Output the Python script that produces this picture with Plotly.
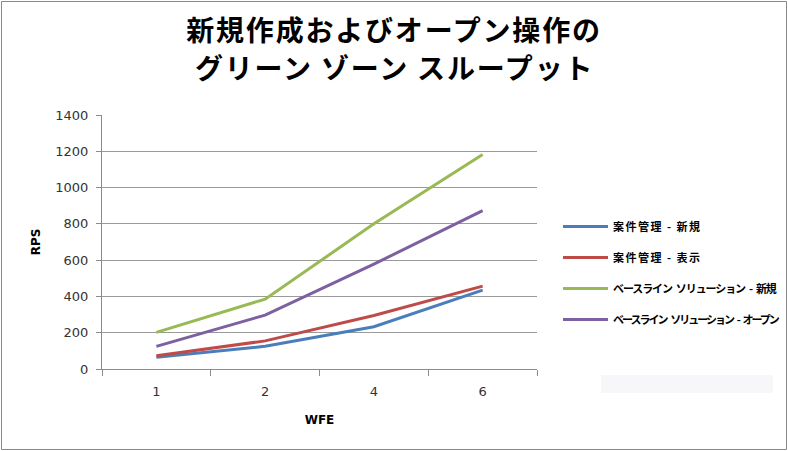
import plotly.graph_objects as go

categories = ["1", "2", "4", "6"]
series_names = [
    "案件管理 - 新規",
    "案件管理 - 表示",
    "ベースライン ソリューション - 新規",
    "ベースライン ソリューション - オープン",
]
title_line1 = "新規作成およびオープン操作の"
title_line2 = "グリーン ゾーン スループット"
case_new = [65, 125, 233, 435]
case_view = [73, 155, 295, 457]
base_new = [202, 385, 800, 1182]
base_open = [125, 297, 578, 873]
y_ticks = [0, 200, 400, 600, 800, 1000, 1200, 1400]

colors = ["#4A7EBB", "#BE4B48", "#98B954", "#7D60A0"]
values = [case_new, case_view, base_new, base_open]
legend_spacing = [1.5, 1.5, -1.1, -2.0]
space_spacing = [1.5, 1.5, 1.5, 1.2]

W, H = 788, 451
L, R, T, B = 102, 4, 115, 82
plot_right = 537
pw, ph = W - L - R, H - T - B   # paper size
dom_right = (plot_right - L) / pw

TITLE_STYLE = "letter-spacing:1.8px"


def styled_name(name, sp, ssp):
    parts = name.split(" ")
    out = []
    for k, seg in enumerate(parts):
        if seg:
            out.append(f'<span style="letter-spacing:{sp}px">{seg}</span>')
        if k < len(parts) - 1:
            out.append(f'<span style="letter-spacing:{ssp}px"> </span>')
    return "".join(out)


fig = go.Figure()
for i, (name, vals) in enumerate(zip(series_names, values)):
    fig.add_trace(go.Scatter(
        x=categories, y=vals,
        name=styled_name(name, legend_spacing[i], space_spacing[i]),
        mode="lines",
        line=dict(color=colors[i], width=3),
        legendgroup=f"g{i}",
    ))

def px_x(x):
    return (x - L) / pw

def px_y(y):
    return (H - B - y) / ph

title_font = dict(family="Noto Sans CJK JP", size=28, color="black", weight="bold")

fig.update_layout(
    width=W, height=H,
    margin=dict(l=L, r=R, t=T, b=B, autoexpand=False),
    paper_bgcolor="white", plot_bgcolor="white",
    title=dict(
        text=f'<span style="{TITLE_STYLE}">{title_line1}</span>',
        x=0.5, xanchor="center", xref="container",
        y=1 - 31 / H, yanchor="middle", yref="container",
        font=title_font,
    ),
    annotations=[
        dict(text=f'<span style="{TITLE_STYLE}">{title_line2}</span>',
             xref="paper", yref="paper", x=px_x(W / 2), y=px_y(67),
             xanchor="center", yanchor="middle", showarrow=False,
             font=title_font),
    ],
    legend=dict(
        x=px_x(558), xanchor="left", y=px_y(212), yanchor="top",
        font=dict(family="Noto Sans CJK JP", size=11, color="black", weight="bold"),
        tracegroupgap=12, traceorder="grouped", itemwidth=45,
        bgcolor="rgba(0,0,0,0)",
    ),
    showlegend=True,
    xaxis=dict(
        type="category", range=[-0.5, 3.5], domain=[0, dom_right],
        showline=True, linecolor="#8c8c8c", linewidth=1,
        ticks="outside", tickson="boundaries", ticklen=6, tickcolor="#8c8c8c",
        showgrid=False, zeroline=False,
        tickfont=dict(family="DejaVu Sans", size=13, color="#333333"),
        ticklabelstandoff=10,
        title=dict(text="WFE", standoff=18,
                   font=dict(family="DejaVu Sans", size=12, color="black", weight="bold")),
    ),
    yaxis=dict(
        range=[0, 1400], tickvals=y_ticks,
        showline=True, linecolor="#8c8c8c", linewidth=1,
        ticks="outside", ticklen=5, tickcolor="#8c8c8c",
        showgrid=True, gridcolor="#9a9a9a", gridwidth=1, zeroline=False,
        tickfont=dict(family="DejaVu Sans", size=13, color="#333333"),
        ticklabelstandoff=5,
        title=dict(text="RPS", standoff=12,
                   font=dict(family="DejaVu Sans", size=12, color="black", weight="bold")),
    ),
    shapes=[
        dict(type="rect", xref="paper", yref="paper",
             x0=px_x(1.5), x1=px_x(786.5), y0=px_y(449.5), y1=px_y(1.5),
             line=dict(color="#8a8a8a", width=1), fillcolor="rgba(0,0,0,0)", layer="below"),
        dict(type="rect", xref="paper", yref="paper",
             x0=px_x(601), x1=px_x(773), y0=px_y(393), y1=px_y(375),
             line=dict(width=0), fillcolor="#f7f7f9", layer="below"),
    ],
)

fig.write_html("out.html")
